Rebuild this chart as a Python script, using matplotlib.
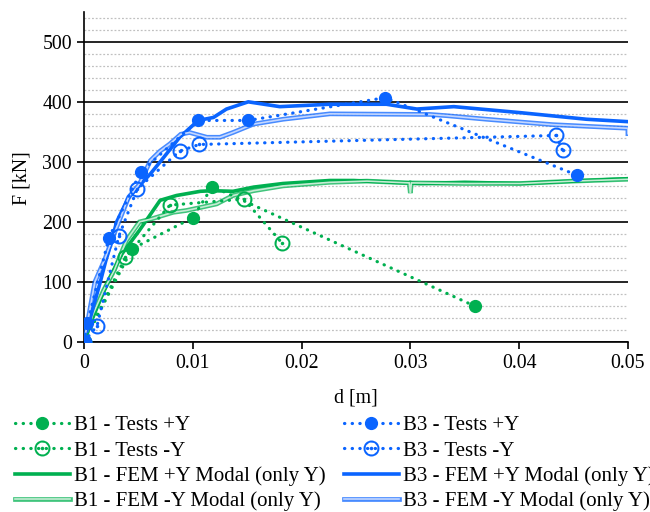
import numpy as np
import matplotlib
matplotlib.use("Agg")
import matplotlib.pyplot as plt
from matplotlib.path import Path
from matplotlib import patheffects as pe
from matplotlib.ticker import MultipleLocator, FixedLocator

plt.rcParams['font.family'] = ['Liberation Serif', 'DejaVu Serif']

GREEN = '#00B050'
BLUE = '#0A64FF'
GREEN_LIGHT = '#c6ecd4'
BLUE_LIGHT = '#c4d7ff'
FS_TICK = 14.3
FS = 15

# ---------------- data ----------------
b1_test_pos_d = [0.0, 0.0044, 0.0100, 0.0118, 0.0359]
b1_test_pos_F = [0, 155, 207, 259, 60]

b1_test_neg_d = [0.0, 0.0038, 0.0079, 0.0147, 0.0182]
b1_test_neg_F = [0, 141, 228, 238, 165]

b1_fem_pos_d = [0.0, 0.0008, 0.0016, 0.0024, 0.0035, 0.0051, 0.0070, 0.0085, 0.0107,
                0.0118, 0.0137, 0.0156, 0.0183, 0.0226, 0.0248, 0.0309, 0.0350,
                0.0401, 0.0450, 0.0500]
b1_fem_pos_F = [0, 40, 75, 108, 147, 186, 236, 244, 251, 252, 251, 258, 264, 269,
                269, 264, 266, 264, 268, 272]

b1_fem_neg_d = [0.0, 0.0008, 0.0018, 0.0028, 0.0039, 0.0051, 0.0062, 0.0082, 0.0094,
                0.0107, 0.0122, 0.0137, 0.0156, 0.0183, 0.0226, 0.0260, 0.0299,
                0.0300, 0.0301, 0.0350, 0.0401, 0.0450, 0.0500]
b1_fem_neg_F = [0, 45, 86, 120, 169, 200, 205, 216, 219, 224, 230, 244, 252, 260,
                266, 268, 265, 248, 265, 264, 264, 268, 271]

b3_test_pos_d = [0.0, 0.0003, 0.0023, 0.0052, 0.0105, 0.0151, 0.0277, 0.0453]
b3_test_pos_F = [0, 31, 174, 283, 369, 369, 407, 278]

b3_test_neg_d = [0.0, 0.0012, 0.0032, 0.0049, 0.0088, 0.0106, 0.0434, 0.0440]
b3_test_neg_F = [0, 27, 176, 255, 318, 329, 344, 319]

b3_fem_pos_d = [0.0, 0.0005, 0.0015, 0.0020, 0.0025, 0.0030, 0.0041, 0.0061, 0.0070,
                0.0088, 0.0105, 0.0119, 0.0131, 0.0151, 0.0180, 0.0226, 0.0278,
                0.0306, 0.0340, 0.0401, 0.0462, 0.0500]
b3_fem_pos_F = [0, 35, 100, 135, 165, 200, 241, 280, 300, 341, 369, 374, 388, 400,
                392, 396, 396, 388, 392, 382, 371, 367]

b3_fem_neg_d = [0.0, 0.0005, 0.0010, 0.0019, 0.0030, 0.0041, 0.0051, 0.0061, 0.0070,
                0.0079, 0.0089, 0.0097, 0.0113, 0.0125, 0.0137, 0.0156, 0.0183,
                0.0226, 0.0318, 0.0333, 0.0370, 0.0431, 0.0500, 0.0500]
b3_fem_neg_F = [0, 50, 100, 137, 191, 241, 263, 302, 318, 330, 346, 349, 341, 341,
                349, 363, 371, 380, 379, 377, 371, 362, 356, 347]

labels = ['B1 - Tests +Y', 'B1 - Tests -Y', 'B1 - FEM +Y Modal (only Y)',
          'B1 - FEM -Y Modal (only Y)', 'B3 - Tests +Y', 'B3 - Tests -Y',
          'B3 - FEM +Y Modal (only Y)', 'B3 - FEM -Y Modal (only Y)']

x_ticks = [0, 0.01, 0.02, 0.03, 0.04, 0.05]
x_tick_labels = ['0', '0.01', '0.02', '0.03', '0.04', '0.05']
y_ticks = [0, 100, 200, 300, 400, 500]

# ---------------- marker: ring with centre dot ----------------
def ring_dot_marker():
    c_out = Path.circle((0, 0), 1.0)
    c_in = Path.circle((0, 0), 0.74)
    dot = Path.circle((0, 0), 0.22)
    verts = np.concatenate([c_out.vertices, c_in.vertices[::-1], dot.vertices])
    codes = np.concatenate([c_out.codes, c_in.codes, dot.codes])
    return Path(verts, codes)

RING = ring_dot_marker()

fig = plt.figure(figsize=(6.5, 5.12), dpi=100)
ax = fig.add_axes([0.1292, 0.332, 0.8368, 0.645])

dot_style = dict(linestyle=(0, (0.1, 2.3)), linewidth=2.3, dash_capstyle='round')

def test_line(d, F, col, lab, filled):
    if filled:
        h, = ax.plot(d, F, color=col, marker='o', markersize=8.5, markerfacecolor=col,
                     markeredgecolor=col, label=lab, zorder=4, **dot_style)
    else:
        h, = ax.plot(d, F, color=col, marker=RING, markersize=11.5, markerfacecolor=col,
                     markeredgewidth=0, label=lab, zorder=4, **dot_style)
    return h

def fem_pos(d, F, col, lab):
    h, = ax.plot(d, F, color=col, linewidth=2.6, label=lab, zorder=3,
                 solid_joinstyle='round')
    return h

def fem_neg(d, F, col, light, lab):
    h, = ax.plot(d, F, color=light, linewidth=1.2, label=lab, zorder=3,
                 solid_joinstyle='miter',
                 path_effects=[pe.Stroke(linewidth=3.4, foreground=col, alpha=0.75),
                               pe.Normal()])
    return h

h1 = test_line(b1_test_pos_d, b1_test_pos_F, GREEN, labels[0], True)
h2 = test_line(b1_test_neg_d, b1_test_neg_F, GREEN, labels[1], False)
h3 = fem_pos(b1_fem_pos_d, b1_fem_pos_F, GREEN, labels[2])
h4 = fem_neg(b1_fem_neg_d, b1_fem_neg_F, GREEN, GREEN_LIGHT, labels[3])
h5 = test_line(b3_test_pos_d, b3_test_pos_F, BLUE, labels[4], True)
h6 = test_line(b3_test_neg_d, b3_test_neg_F, BLUE, labels[5], False)
h7 = fem_pos(b3_fem_pos_d, b3_fem_pos_F, BLUE, labels[6])
h8 = fem_neg(b3_fem_neg_d, b3_fem_neg_F, BLUE, BLUE_LIGHT, labels[7])

ax.set_xlim(0, 0.05)
ax.set_ylim(0, 550)
ax.xaxis.set_major_locator(FixedLocator(x_ticks))
ax.set_xticklabels(x_tick_labels)
ax.yaxis.set_major_locator(FixedLocator(y_ticks))
ax.yaxis.set_minor_locator(MultipleLocator(20))
ax.tick_params(axis='both', which='major', direction='out', length=5, width=1.2,
               color='black', labelsize=FS_TICK, pad=3.6)
ax.tick_params(axis='y', which='minor', length=0)
ax.grid(True, axis='y', which='major', color='black', linewidth=1.2, zorder=1)
ax.grid(True, axis='y', which='minor', color='#c0c0c0', linewidth=0.9,
        linestyle=(0, (1.5, 1.5)), zorder=1)
ax.set_axisbelow(True)
for s in ['top', 'right']:
    ax.spines[s].set_visible(False)
for s in ['left', 'bottom']:
    ax.spines[s].set_linewidth(1.2)
    ax.spines[s].set_color('black')

ax.set_xlabel('d [m]', fontsize=FS_TICK)
ax.set_ylabel('F [kN]', fontsize=FS_TICK)
ax.xaxis.set_label_coords(0.5, -0.14)
ax.yaxis.set_label_coords(-0.096, 0.495)

leg = fig.legend(handles=[h1, h2, h3, h4, h5, h6, h7, h8], ncol=2,
                 loc='upper left', bbox_to_anchor=(0.023, 0.188),
                 frameon=False, fontsize=FS, handlelength=2.64, handletextpad=0.2,
                 columnspacing=0.87, labelspacing=0.27, borderpad=0, borderaxespad=0)

fig.savefig('out.png', dpi=100)
